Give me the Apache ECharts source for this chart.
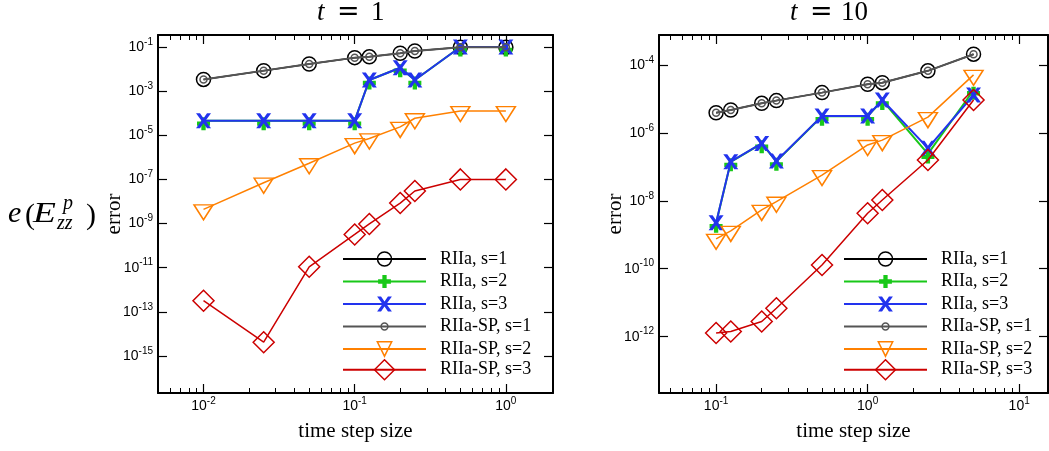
<!DOCTYPE html>
<html><head><meta charset="utf-8">
<script src="https://cdn.jsdelivr.net/npm/echarts@6/dist/echarts.min.js"></script>
<style>html,body{margin:0;padding:0;background:#fff}#c{width:1049px;height:451px}</style>
</head><body><div id="c"></div>
<script>
// ---------------- data ----------------
const seriesNames = ['RIIa, s=1', 'RIIa, s=2', 'RIIa, s=3', 'RIIa-SP, s=1', 'RIIa-SP, s=2', 'RIIa-SP, s=3'];

// t = 1 (left panel)
const stepsT1 = [0.01, 0.025, 0.05, 0.1, 0.125, 0.2, 0.25, 0.5, 1];
const t1_RIIa_s1 = [3.4e-3, 8.5e-3, 1.7e-2, 3.3e-2, 3.6e-2, 5.2e-2, 6.6e-2, 9.7e-2, 9.7e-2];
const t1_RIIa_s2 = [4.6e-5, 4.6e-5, 4.6e-5, 4.6e-5, 3.2e-3, 1.15e-2, 3.2e-3, 0.1, 0.1];
const t1_RIIa_s3 = [4.6e-5, 4.6e-5, 4.6e-5, 4.6e-5, 3.2e-3, 1.15e-2, 3.2e-3, 0.1, 0.1];
const t1_SP_s1 = [3.4e-3, 8.5e-3, 1.7e-2, 3.3e-2, 3.6e-2, 5.2e-2, 6.6e-2, 9.7e-2, 9.7e-2];
const t1_SP_s2 = [4.4e-9, 7.1e-8, 5.4e-7, 4.4e-6, 7.2e-6, 2.4e-5, 5.9e-5, 1.25e-4, 1.25e-4];
const t1_SP_s3 = [3.2e-13, 4.2e-15, 1.1e-11, 3.2e-10, 9.6e-10, 8.5e-9, 3.0e-8, 1.0e-7, 1.0e-7];

// t = 10 (right panel)
const stepsT10 = [0.1, 0.125, 0.2, 0.25, 0.5, 1, 1.25, 2.5, 5];
const t10_RIIa_s1 = [3.9e-6, 4.7e-6, 7.4e-6, 8.9e-6, 1.53e-5, 2.7e-5, 3.0e-5, 6.7e-5, 2.07e-4];
const t10_RIIa_s2 = [2.2e-9, 1.4e-7, 4.8e-7, 1.45e-7, 3.1e-6, 3.1e-6, 9.0e-6, 2.4e-7, 1.8e-5];
const t10_RIIa_s3 = [2.27e-9, 1.42e-7, 4.9e-7, 1.49e-7, 3.16e-6, 3.16e-6, 9.3e-6, 3.55e-7, 1.3e-5];
const t10_SP_s1 = [3.9e-6, 4.7e-6, 7.4e-6, 8.9e-6, 1.53e-5, 2.7e-5, 3.0e-5, 6.7e-5, 2.07e-4];
const t10_SP_s2 = [7.6e-10, 1.3e-9, 5.4e-9, 9.4e-9, 5.7e-8, 4.4e-7, 6.1e-7, 2.9e-6, 5.1e-5];
const t10_SP_s3 = [1.28e-12, 1.42e-12, 2.8e-12, 6.9e-12, 1.29e-10, 4.3e-9, 1.06e-8, 1.59e-7, 9.3e-6];

// tick values
const xMajorT1 = [0.01, 0.1, 1];
const xMinorT1 = [0.005, 0.006, 0.007, 0.008, 0.009, 0.02, 0.03, 0.04, 0.05, 0.06, 0.07, 0.08, 0.09,
                  0.2, 0.3, 0.4, 0.5, 0.6, 0.7, 0.8, 0.9];
const yMajorT1 = [1e-15, 1e-13, 1e-11, 1e-9, 1e-7, 1e-5, 1e-3, 1e-1];
const xMajorT10 = [0.1, 1, 10];
const xMinorT10 = [0.05, 0.06, 0.07, 0.08, 0.09, 0.2, 0.3, 0.4, 0.5, 0.6, 0.7, 0.8, 0.9,
                   2, 3, 4, 5, 6, 7, 8, 9];
const yMajorT10 = [1e-12, 1e-10, 1e-8, 1e-6, 1e-4];

const titleT1 = '1';
const titleT10 = '10';
const xName = 'time step size';
const yName = 'error';

// ---------------- styles ----------------
const PLUS = 'path://M4,0 L8,0 L8,4 L12,4 L12,8 L8,8 L8,12 L4,12 L4,8 L0,8 L0,4 L4,4 Z';
const XMARK = 'path://M0,0 L3.2,0 L6,4 L8.8,0 L12,0 L7.6,6 L12,12 L8.8,12 L6,8 L3.2,12 L0,12 L4.4,6 Z';
const TRI = 'path://M0,0 L20,0 L10,16 Z';
const GREEN = '#19c819', BLUE = '#2233ee', ORANGE = '#ff8000', RED = '#cc0000', GRAY = '#555555';
const styles = [
  {color: '#000', lw: 1.5, symbol: 'circle', size: 14, fill: 'rgba(0,0,0,0)', bw: 1.5, lh: 17.5},
  {color: GREEN, lw: 2, symbol: PLUS, size: 13, fill: GREEN, bw: 0, offset: [0, 3], lh: 16},
  {color: BLUE, lw: 2, symbol: XMARK, size: 15, fill: BLUE, bw: 0, lh: 18.5},
  {color: GRAY, lw: 2, symbol: 'circle', size: 7, fill: 'rgba(0,0,0,0)', bw: 1.5, lh: 8.5},
  {color: ORANGE, lw: 1.5, symbol: TRI, size: [19, 15], fill: 'rgba(0,0,0,0)', bw: 1.5, offset: [0, 3], lh: 18},
  {color: RED, lw: 1.5, symbol: 'diamond', size: 21, fill: 'rgba(0,0,0,0)', bw: 1.5, lh: 25}
];

const panels = [
  {steps: stepsT1, ys: [t1_RIIa_s1, t1_RIIa_s2, t1_RIIa_s3, t1_SP_s1, t1_SP_s2, t1_SP_s3],
   grid: {left: 158, top: 35, width: 395, height: 358},
   xMin: 0.005, xMax: 2.05, yMin: 2.1e-17, yMax: 0.35,
   xMajor: xMajorT1, xMinor: xMinorT1, yMajor: yMajorT1, legendX: 342},
  {steps: stepsT10, ys: [t10_RIIa_s1, t10_RIIa_s2, t10_RIIa_s3, t10_SP_s1, t10_SP_s2, t10_SP_s3],
   grid: {left: 659, top: 35, width: 389, height: 358},
   xMin: 0.042, xMax: 15.5, yMin: 2.2e-14, yMax: 7.6e-4,
   xMajor: xMajorT10, xMinor: xMinorT10, yMajor: yMajorT10, legendX: 843}
];

const legendRows = [259, 281.5, 304, 326.5, 349, 371.5];

const tickRich = {
  b: {fontFamily: 'Liberation Sans', fontSize: 14, color: '#000', lineHeight: 20, verticalAlign: 'middle'},
  s: {fontFamily: 'Liberation Sans', fontSize: 10, color: '#000', lineHeight: 10, verticalAlign: 'top'}
};
function powLabel(v) {
  return '{b|10}{s|' + Math.round(Math.log10(v)) + '}';
}

const grids = [], xAxes = [], yAxes = [], series = [], legends = [];
panels.forEach((p, g) => {
  grids.push(Object.assign({show: false}, p.grid));
  const xBase = {gridIndex: g, type: 'log', min: p.xMin, max: p.xMax, splitLine: {show: false}, minorTick: {show: false}};
  const yBase = {gridIndex: g, type: 'log', min: p.yMin, max: p.yMax, splitLine: {show: false}, minorTick: {show: false}};
  const line = {show: true, lineStyle: {color: '#000', width: 2}};
  // bottom major with labels
  xAxes.push(Object.assign({}, xBase, {
    position: 'bottom', axisLine: line,
    axisTick: {show: true, inside: true, length: 9, customValues: p.xMajor, lineStyle: {color: '#000', width: 1.2}},
    axisLabel: {show: true, customValues: p.xMajor, formatter: powLabel, rich: tickRich, margin: 3},
    name: xName, nameLocation: 'middle', nameGap: 28,
    nameTextStyle: {fontFamily: 'Liberation Serif', fontSize: 21, color: '#000'}
  }));
  // bottom minor
  xAxes.push(Object.assign({}, xBase, {
    position: 'bottom', axisLine: {show: false},
    axisTick: {show: true, inside: true, length: 5, customValues: p.xMinor, lineStyle: {color: '#000', width: 1}},
    axisLabel: {show: false}
  }));
  // top major
  xAxes.push(Object.assign({}, xBase, {
    position: 'top', axisLine: line,
    axisTick: {show: true, inside: true, length: 9, customValues: p.xMajor, lineStyle: {color: '#000', width: 1.2}},
    axisLabel: {show: false}
  }));
  // top minor
  xAxes.push(Object.assign({}, xBase, {
    position: 'top', axisLine: {show: false},
    axisTick: {show: true, inside: true, length: 5, customValues: p.xMinor, lineStyle: {color: '#000', width: 1}},
    axisLabel: {show: false}
  }));
  yAxes.push(Object.assign({}, yBase, {
    position: 'left', axisLine: line,
    axisTick: {show: true, inside: true, length: 9, customValues: p.yMajor, lineStyle: {color: '#000', width: 1.2}},
    axisLabel: {show: true, customValues: p.yMajor, formatter: powLabel, rich: tickRich, margin: 5},
    name: yName, nameLocation: 'middle', nameGap: 33, nameMoveOverlap: false,
    nameTextStyle: {fontFamily: 'Liberation Serif', fontSize: 21, color: '#000'}
  }));
  yAxes.push(Object.assign({}, yBase, {
    position: 'right', axisLine: line,
    axisTick: {show: true, inside: true, length: 9, customValues: p.yMajor, lineStyle: {color: '#000', width: 1.2}},
    axisLabel: {show: false}
  }));

  seriesNames.forEach((name, k) => {
    const st = styles[k];
    series.push({
      type: 'line', name: name, xAxisIndex: g * 4, yAxisIndex: g * 2,
      data: p.steps.map((x, i) => [x, p.ys[k][i]]),
      symbol: st.symbol, symbolSize: st.size, symbolOffset: st.offset || [0, 0],
      showAllSymbol: true,
      itemStyle: {color: st.fill, borderColor: st.color, borderWidth: st.bw},
      lineStyle: {color: st.color, width: st.lw},
      emphasis: {disabled: true},
      z: 2 + k, animation: false, clip: false
    });
    const h = st.lh;
    legends.push({
      show: true, data: [name], left: p.legendX, top: legendRows[k] - Math.max(h, 19) / 2,
      orient: 'vertical', itemWidth: 83, itemHeight: h, padding: 0, selectedMode: false,
      itemStyle: {borderWidth: st.bw},
      textStyle: {fontFamily: 'Liberation Serif', fontSize: 18, color: '#000', lineHeight: 19, padding: [0, 0, 0, 9]}
    });
  });
});

function T(text, x, base, size, italic, family, extra) {
  return Object.assign({
    type: 'text', x: x, y: base - 0.34 * size, silent: true,
    style: {text: text, fontSize: size, fontFamily: family || 'Liberation Serif',
            fontStyle: italic ? 'italic' : 'normal', fill: '#000', textAlign: 'left', textVerticalAlign: 'middle', verticalAlign: 'middle'}
  }, extra || {});
}

const graphics = [
  // titles
  T('t', 317, 22, 27, true),
  T('=', 337, 22, 27, false, 'DejaVu Serif'),
  T(titleT1, 371, 22, 27, false),
  T('t', 790, 22, 27, true),
  T('=', 810, 22, 27, false, 'DejaVu Serif'),
  T(titleT10, 841, 22, 27, false),
  // e(E^p_zz)
  T('e', 8, 224, 30, true),
  T('(', 25, 226, 30, false),
  T('E', 33, 224, 30, true, null, {scaleX: 1.25}),
  T('p', 63, 211, 20, true),
  T('zz', 57, 231, 20, true),
  T(')', 86, 226, 30, false)
];

const chart = echarts.init(document.getElementById('c'), null, {renderer: 'canvas'});
chart.setOption({
  animation: false,
  backgroundColor: '#fff',
  grid: grids, xAxis: xAxes, yAxis: yAxes, series: series, legend: legends,
  graphic: graphics
});
</script></body></html>
